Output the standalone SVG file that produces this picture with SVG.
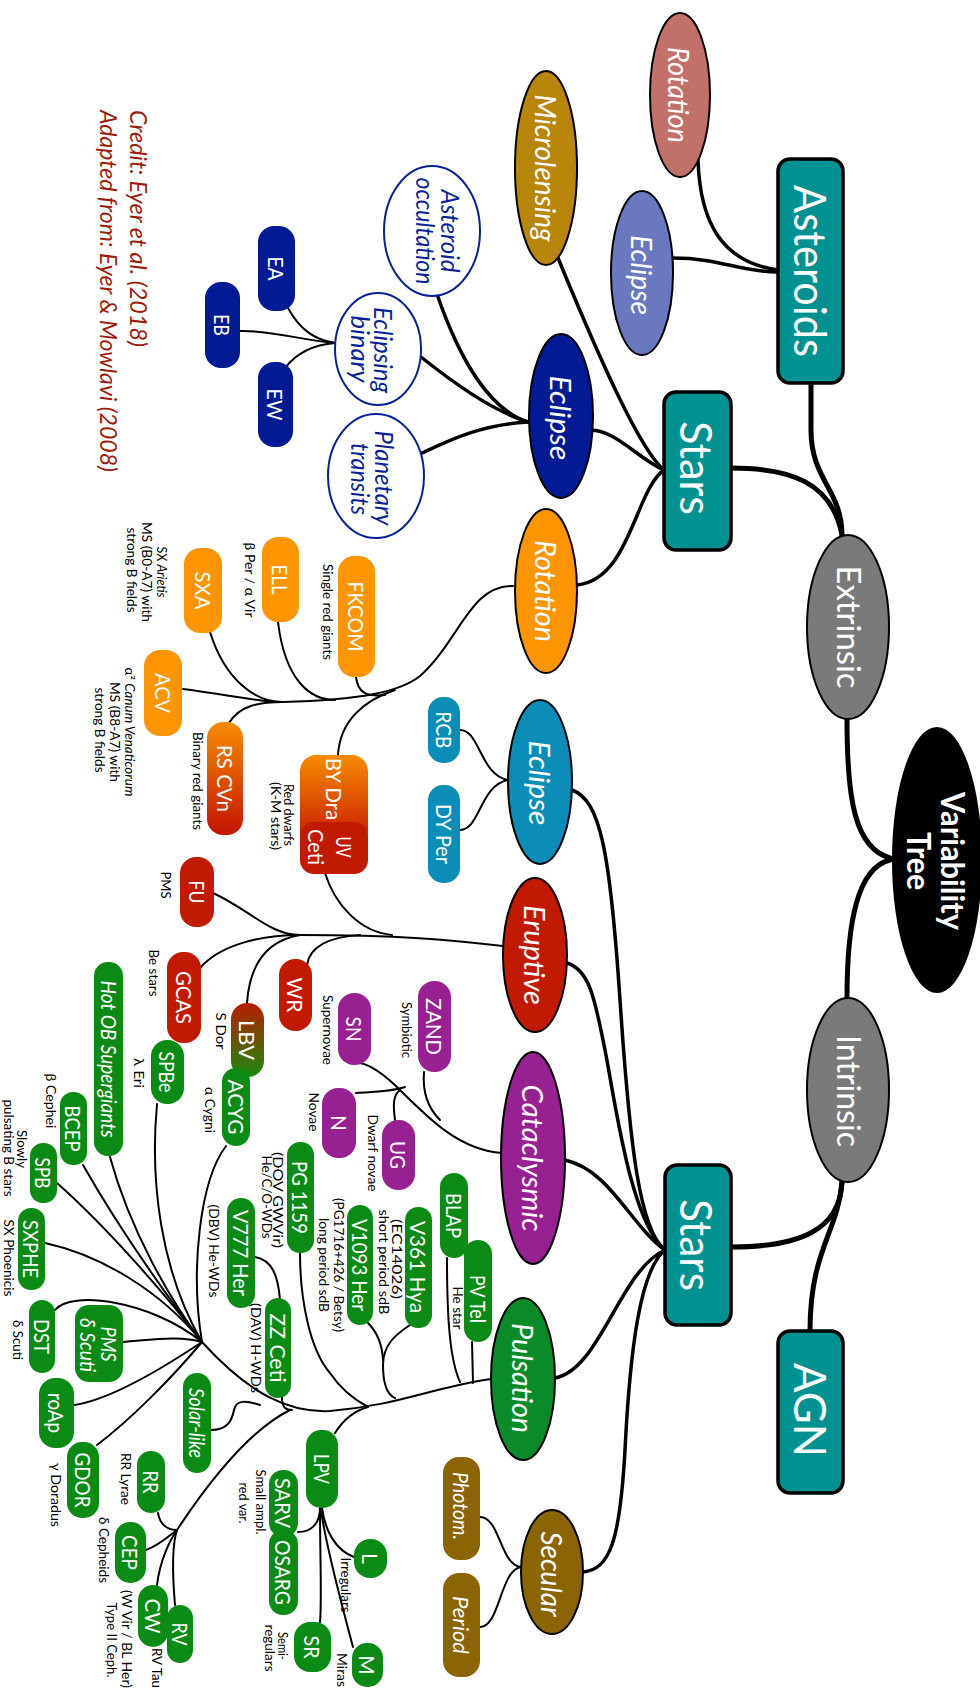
<svg xmlns="http://www.w3.org/2000/svg" width="980" height="1692" viewBox="0 0 980 1692">
<defs>
<style>
.t{font-family:Lato,"Open Sans","DejaVu Sans",sans-serif;fill:#fff;text-anchor:middle;dominant-baseline:central}
.big{font-size:44px}
.mid{font-size:32px}
.vt{font-size:32px;font-weight:bold}
.el{font-size:28px;font-style:italic}
.p{font-size:21px}
.pi{font-size:21px;font-style:italic}
.a{font-size:13px;fill:#000}
.w{font-size:26px;font-style:italic;fill:#0a1f9a}
.cr{font-size:24px;font-style:italic;fill:#9c1b0c;text-anchor:start}
.c{fill:none;stroke:#000;stroke-width:2;stroke-linecap:round}
.c3{stroke-width:3.5}
.c5{stroke-width:5}
.box{fill:#009190;stroke:#000;stroke-width:3.5}
.ell{stroke:#000;stroke-width:2}
.wel{fill:#fff;stroke:#0a1f9a;stroke-width:2}
.blue{fill:#021b94}.orng{fill:#fd9500}.red{fill:#c21a00}.grn{fill:#0b8a16}.pur{fill:#972191}.cyan{fill:#0b8db7}.brn{fill:#8b6406}
</style>
<linearGradient id="gOR" x1="0" y1="0" x2="0" y2="1"><stop offset="0" stop-color="#f78c00"/><stop offset="1" stop-color="#c41400"/></linearGradient>
<linearGradient id="gRG" x1="0" y1="0" x2="0" y2="1"><stop offset="0" stop-color="#b81c00"/><stop offset="1" stop-color="#1a8a10"/></linearGradient>
</defs>
<rect width="980" height="1692" fill="#fff"/>

<g id="connectors">
<path class="c c5" d="M847 720 C847 800 855 848 890 858"/>
<path class="c c5" d="M890 860 C858 868 847 920 847 998"/>
<path class="c c5" d="M811 383 L811 430 C811 480 842 490 842 535"/>
<path class="c c5" d="M731 468 C790 468 832 482 842 535"/>
<path class="c c5" d="M842 1182 C840 1230 800 1247 731 1247"/>
<path class="c c5" d="M842 1182 C838 1232 810 1250 810 1331"/>
<path class="c c3" d="M778 270 C720 262 700 220 698 160"/>
<path class="c c3" d="M778 272 C740 272 720 258 673 258"/>
<path class="c c3" d="M664 470 C640 450 600 360 558 258"/>
<path class="c c3" d="M664 470 C640 460 615 430 591 430"/>
<path class="c c3" d="M664 470 C635 490 630 580 577 585"/>
<path class="c c3" d="M528 422 C490 410 460 360 438 297"/>
<path class="c c3" d="M528 422 C490 410 450 380 421 357"/>
<path class="c c3" d="M528 422 C480 425 450 440 422 453"/>
<path class="c" d="M335 343 C315 340 300 330 288 308"/>
<path class="c" d="M335 343 C300 340 270 330 240 331"/>
<path class="c" d="M335 343 C310 345 295 355 285 368"/>
<path class="c" d="M513 586 C470 585 460 640 420 676 C400 692 360 700 283 702"/>
<path class="c" d="M356 677 C358 692 365 697 385 695"/>
<path class="c" d="M278 622 C285 680 310 700 335 700"/>
<path class="c" d="M210 632 C225 680 255 702 283 702"/>
<path class="c" d="M183 689 C230 695 260 702 283 702"/>
<path class="c" d="M229 723 C240 705 260 702 283 702"/>
<path class="c" d="M338 755 C340 720 365 700 395 690"/>
<path class="c" d="M503 946 C450 940 400 935 300 935"/>
<path class="c" d="M213 893 C250 910 270 935 300 935"/>
<path class="c" d="M200 968 C220 945 260 935 300 935"/>
<path class="c" d="M247 1003 C250 960 270 940 300 935"/>
<path class="c" d="M307 965 C310 945 330 937 360 935"/>
<path class="c" d="M325 873 C335 905 360 932 392 935"/>
<path class="c" d="M502 1153 C460 1150 430 1120 400 1090 C385 1075 370 1065 360 1063"/>
<path class="c" d="M424 1072 C422 1095 430 1110 440 1120"/>
<path class="c" d="M356 1093 C370 1092 390 1092 405 1087"/>
<path class="c" d="M395 1120 C393 1105 393 1095 400 1090"/>
<path class="c" d="M508 780 C480 775 480 730 460 730"/>
<path class="c" d="M508 780 C480 785 480 830 460 830"/>
<path class="c" d="M521 1567 C500 1565 500 1517 480 1517"/>
<path class="c" d="M521 1567 C500 1570 500 1627 480 1627"/>
<path class="c c3" d="M665 1250 C640 1230 630 1150 620 1000 C610 850 600 800 572 790"/>
<path class="c c3" d="M665 1250 C630 1220 615 1100 605 1050 C595 1000 590 970 567 963"/>
<path class="c c3" d="M665 1250 C630 1225 610 1170 565 1160"/>
<path class="c c3" d="M665 1250 C620 1270 600 1370 555 1378"/>
<path class="c c3" d="M665 1250 C640 1270 630 1350 625 1450 C620 1540 610 1570 583 1572"/>
<path class="c" d="M491 1379 C430 1388 400 1405 330 1411 C290 1413 250 1395 202 1342"/>
<path class="c" d="M472 1342 L473 1383"/>
<path class="c" d="M447 1258 C447 1320 450 1360 460 1382"/>
<path class="c" d="M410 1325 C395 1335 383 1345 383 1365 C383 1385 388 1395 395 1398"/>
<path class="c" d="M368 1323 C375 1330 382 1340 383 1360"/>
<path class="c" d="M300 1253 C300 1300 310 1350 330 1373 C340 1388 355 1400 368 1407"/>
<path class="c" d="M255 1257 C272 1260 278 1275 280 1300 L282 1400 C283 1408 286 1410 292 1410"/>
<path class="c" d="M110 1157 C130 1230 170 1300 202 1342"/>
<path class="c" d="M83 1165 C120 1230 170 1300 202 1342"/>
<path class="c" d="M57 1183 C110 1230 170 1300 202 1342"/>
<path class="c" d="M45 1243 C100 1255 160 1290 202 1342"/>
<path class="c" d="M157 1104 C150 1180 160 1270 202 1342"/>
<path class="c" d="M226 1146 C200 1180 190 1270 202 1342"/>
<path class="c" d="M55 1310 C70 1290 150 1300 202 1342"/>
<path class="c" d="M123 1342 C150 1340 180 1335 202 1342"/>
<path class="c" d="M74 1405 C110 1400 160 1370 202 1342"/>
<path class="c" d="M97 1445 C130 1420 170 1380 202 1342"/>
<path class="c" d="M211 1430 C228 1430 232 1420 234 1410 C236 1400 245 1400 260 1405"/>
<path class="c" d="M290 1410 C250 1430 210 1480 177 1530"/>
<path class="c" d="M158 1513 C160 1525 168 1530 177 1530"/>
<path class="c" d="M146 1550 C160 1545 170 1535 177 1530"/>
<path class="c" d="M157 1585 C160 1560 170 1540 177 1530"/>
<path class="c" d="M175 1605 C172 1570 172 1545 177 1530"/>
<path class="c" d="M368 1407 C350 1412 340 1425 335 1433"/>
<path class="c" d="M320 1508 C320 1525 310 1532 298 1532"/>
<path class="c" d="M320 1508 C320 1560 322 1600 320 1622"/>
<path class="c" d="M322 1508 C325 1530 335 1550 354 1557"/>
<path class="c" d="M321 1510 C325 1540 335 1580 353 1647"/>
</g>

<g id="credit">
<text class="t cr" transform="translate(139 110) rotate(90)" textLength="237" lengthAdjust="spacingAndGlyphs">Credit:  Eyer et al. (2018)</text>
<text class="t cr" transform="translate(109 110) rotate(90)" textLength="362" lengthAdjust="spacingAndGlyphs">Adapted from:  Eyer &amp; Mowlavi (2008)</text>
</g>

<g id="variability-tree"><ellipse cx="937" cy="860" rx="45" ry="133" fill="#000"/>
<text class="t vt" transform="translate(953 861) rotate(90)" textLength="138" lengthAdjust="spacingAndGlyphs">Variability</text>
<text class="t vt" transform="translate(919 861) rotate(90)" textLength="58" lengthAdjust="spacingAndGlyphs">Tree</text></g>

<g id="extrinsic"><ellipse class="ell" cx="848" cy="627" rx="41" ry="92" fill="#7a7a7a"/>
<text class="t mid" transform="translate(849 627) rotate(90)" textLength="123" lengthAdjust="spacingAndGlyphs">Extrinsic</text></g>
<g id="intrinsic"><ellipse class="ell" cx="848" cy="1090" rx="41" ry="92" fill="#7a7a7a"/>
<text class="t mid" transform="translate(849 1091) rotate(90)" textLength="112" lengthAdjust="spacingAndGlyphs">Intrinsic</text></g>

<g id="asteroids"><rect class="box" x="778" y="159" width="65" height="224" rx="12"/>
<text class="t big" transform="translate(811 271) rotate(90)" textLength="172" lengthAdjust="spacingAndGlyphs">Asteroids</text></g>
<g id="stars-ext"><rect class="box" x="664" y="392" width="67" height="158" rx="12"/>
<text class="t big" transform="translate(697 468) rotate(90)" textLength="94" lengthAdjust="spacingAndGlyphs">Stars</text></g>
<g id="stars-int"><rect class="box" x="665" y="1165" width="66" height="160" rx="12"/>
<text class="t big" transform="translate(697 1245) rotate(90)" textLength="92" lengthAdjust="spacingAndGlyphs">Stars</text></g>
<g id="agn"><rect class="box" x="778" y="1331" width="65" height="162" rx="12"/>
<text class="t big" transform="translate(811 1410) rotate(90)" textLength="94" lengthAdjust="spacingAndGlyphs">AGN</text></g>

<g id="ast-rotation"><ellipse class="ell" cx="680" cy="95" rx="30" ry="82" fill="#c1706a"/>
<text class="t el" transform="translate(679 95) rotate(90)" textLength="96" lengthAdjust="spacingAndGlyphs">Rotation</text></g>
<g id="ast-eclipse"><ellipse class="ell" cx="642" cy="273" rx="31" ry="82" fill="#6a78c0"/>
<text class="t el" transform="translate(642 275) rotate(90)" textLength="80" lengthAdjust="spacingAndGlyphs">Eclipse</text></g>
<g id="microlensing"><ellipse class="ell" cx="546" cy="168" rx="31" ry="97" fill="#b8860b"/>
<text class="t el" transform="translate(546 168) rotate(90)" textLength="147" lengthAdjust="spacingAndGlyphs">Microlensing</text></g>
<g id="eclipse-blue"><ellipse class="ell blue" cx="561" cy="416" rx="32" ry="82"/>
<text class="t el" transform="translate(561 418) rotate(90)" textLength="85" lengthAdjust="spacingAndGlyphs">Eclipse</text></g>
<g id="rotation-orange"><ellipse class="ell orng" cx="546" cy="591" rx="31" ry="82"/>
<text class="t el" transform="translate(546 591) rotate(90)" textLength="102" lengthAdjust="spacingAndGlyphs">Rotation</text></g>
<g id="eclipse-cyan"><ellipse class="ell cyan" cx="540" cy="782" rx="32" ry="82"/>
<text class="t el" transform="translate(540 783) rotate(90)" textLength="85" lengthAdjust="spacingAndGlyphs">Eclipse</text></g>
<g id="eruptive"><ellipse class="ell red" cx="535" cy="955" rx="32" ry="77"/>
<text class="t el" transform="translate(535 955) rotate(90)" textLength="100" lengthAdjust="spacingAndGlyphs">Eruptive</text></g>
<g id="cataclysmic"><ellipse class="ell pur" cx="533" cy="1158" rx="32" ry="106"/>
<text class="t el" transform="translate(533 1158) rotate(90)" textLength="147" lengthAdjust="spacingAndGlyphs">Cataclysmic</text></g>
<g id="pulsation"><ellipse class="ell" cx="523" cy="1379" rx="32" ry="81" fill="#0a8a28"/>
<text class="t el" transform="translate(523 1378) rotate(90)" textLength="110" lengthAdjust="spacingAndGlyphs">Pulsation</text></g>
<g id="secular"><ellipse class="ell brn" cx="552" cy="1572" rx="31" ry="62"/>
<text class="t el" transform="translate(552 1574) rotate(90)" textLength="85" lengthAdjust="spacingAndGlyphs">Secular</text></g>

<g id="asteroid-occultation"><ellipse class="wel" cx="432" cy="231" rx="48" ry="65"/>
<text class="t w" transform="translate(451 231) rotate(90)" textLength="83" lengthAdjust="spacingAndGlyphs">Asteroid</text>
<text class="t w" transform="translate(426 231) rotate(90)" textLength="107" lengthAdjust="spacingAndGlyphs">occultation</text></g>
<g id="eclipsing-binary"><ellipse class="wel" cx="378" cy="349" rx="43" ry="56"/>
<text class="t w" transform="translate(384 350) rotate(90)" textLength="86" lengthAdjust="spacingAndGlyphs">Eclipsing</text>
<text class="t w" transform="translate(361 349) rotate(90)" textLength="67" lengthAdjust="spacingAndGlyphs">binary</text></g>
<g id="planetary-transits"><ellipse class="wel" cx="376" cy="476" rx="48" ry="62"/>
<text class="t w" transform="translate(385 478) rotate(90)" textLength="95" lengthAdjust="spacingAndGlyphs">Planetary</text>
<text class="t w" transform="translate(361 479) rotate(90)" textLength="72" lengthAdjust="spacingAndGlyphs">transits</text></g>

<g id="EA"><rect class="blue" x="258" y="226" width="37" height="85" rx="16"/><text class="t p" transform="translate(276.5 268.5) rotate(90)" textLength="24" lengthAdjust="spacingAndGlyphs">EA</text></g>
<g id="EB"><rect class="blue" x="205" y="282" width="35" height="86" rx="16"/><text class="t p" transform="translate(222.5 325) rotate(90)" textLength="22" lengthAdjust="spacingAndGlyphs">EB</text></g>
<g id="EW"><rect class="blue" x="258" y="362" width="35" height="85" rx="16"/><text class="t p" transform="translate(275.5 404.5) rotate(90)" textLength="32" lengthAdjust="spacingAndGlyphs">EW</text></g>

<g id="FKCOM"><rect class="orng" x="338" y="556" width="37" height="121" rx="16"/><text class="t p" transform="translate(356.5 616.5) rotate(90)" textLength="70" lengthAdjust="spacingAndGlyphs">FKCOM</text>
<text class="t a" transform="translate(328 612) rotate(90)" textLength="96" lengthAdjust="spacingAndGlyphs">Single red giants</text></g>
<g id="ELL"><rect class="orng" x="262" y="537" width="37" height="85" rx="16"/><text class="t p" transform="translate(280.5 579.5) rotate(90)" textLength="30" lengthAdjust="spacingAndGlyphs">ELL</text>
<text class="t a" transform="translate(250 580) rotate(90)" textLength="75" lengthAdjust="spacingAndGlyphs">β Per / α Vir</text></g>
<g id="SXA"><rect class="orng" x="184" y="548" width="38" height="85" rx="16"/><text class="t p" transform="translate(203 590.5) rotate(90)" textLength="38" lengthAdjust="spacingAndGlyphs">SXA</text>
<text class="t a" transform="translate(162 572) rotate(90)" textLength="51" lengthAdjust="spacingAndGlyphs">SX <tspan font-style="italic">Arietis</tspan></text>
<text class="t a" transform="translate(147 572) rotate(90)" textLength="100" lengthAdjust="spacingAndGlyphs">MS (B0-A7) with</text>
<text class="t a" transform="translate(132 570) rotate(90)" textLength="85" lengthAdjust="spacingAndGlyphs">strong B fields</text></g>
<g id="ACV"><rect class="orng" x="144" y="650" width="38" height="86" rx="16"/><text class="t p" transform="translate(163 693) rotate(90)" textLength="40" lengthAdjust="spacingAndGlyphs">ACV</text>
<text class="t a" transform="translate(130 732) rotate(90)" textLength="129" lengthAdjust="spacingAndGlyphs">α² <tspan font-style="italic">Canum Venaticorum</tspan></text>
<text class="t a" transform="translate(115 732) rotate(90)" textLength="100" lengthAdjust="spacingAndGlyphs">MS (B8-A7) with</text>
<text class="t a" transform="translate(100 730) rotate(90)" textLength="85" lengthAdjust="spacingAndGlyphs">strong B fields</text></g>
<g id="RSCVn"><rect x="207" y="722" width="36" height="113" rx="16" fill="url(#gOR)"/><text class="t p" transform="translate(225 778.5) rotate(90)" textLength="67" lengthAdjust="spacingAndGlyphs">RS CVn</text>
<text class="t a" transform="translate(198 781) rotate(90)" textLength="98" lengthAdjust="spacingAndGlyphs">Binary red giants</text></g>
<g id="BYDra"><rect x="300" y="755" width="68" height="92" rx="16" fill="url(#gOR)"/><text class="t p" transform="translate(334 789) rotate(90)" textLength="62" lengthAdjust="spacingAndGlyphs">BY Dra</text>
<text class="t a" transform="translate(289 815) rotate(90)" textLength="62" lengthAdjust="spacingAndGlyphs">Red dwarfs</text>
<text class="t a" transform="translate(276 816) rotate(90)" textLength="68" lengthAdjust="spacingAndGlyphs">(K-M stars)</text></g>
<g id="UVCeti"><rect class="red" x="300" y="822" width="68" height="52" rx="14"/><text class="t p" transform="translate(344 847) rotate(90)" textLength="21" lengthAdjust="spacingAndGlyphs">UV</text><text class="t p" transform="translate(316 847) rotate(90)" textLength="36" lengthAdjust="spacingAndGlyphs">Ceti</text></g>

<g id="RCB"><rect class="cyan" x="428" y="697" width="32" height="66" rx="15"/><text class="t p" transform="translate(444 730) rotate(90)" textLength="37" lengthAdjust="spacingAndGlyphs">RCB</text></g>
<g id="DYPer"><rect class="cyan" x="428" y="785" width="32" height="98" rx="15"/><text class="t p" transform="translate(444 834) rotate(90)" textLength="60" lengthAdjust="spacingAndGlyphs">DY Per</text></g>

<g id="FU"><rect class="red" x="180" y="857" width="34" height="70" rx="16"/><text class="t p" transform="translate(197 892) rotate(90)" textLength="23" lengthAdjust="spacingAndGlyphs">FU</text>
<text class="t a" transform="translate(166 885) rotate(90)">PMS</text></g>
<g id="GCAS"><rect class="red" x="167" y="952" width="34" height="91" rx="16"/><text class="t p" transform="translate(184 997.5) rotate(90)" textLength="53" lengthAdjust="spacingAndGlyphs">GCAS</text>
<text class="t a" transform="translate(154 973) rotate(90)" textLength="47" lengthAdjust="spacingAndGlyphs">Be stars</text></g>
<g id="WR"><rect class="red" x="279" y="959" width="33" height="72" rx="16"/><text class="t p" transform="translate(295.5 995) rotate(90)" textLength="35" lengthAdjust="spacingAndGlyphs">WR</text></g>
<g id="LBV"><rect x="231" y="1003" width="33" height="74" rx="16" fill="url(#gRG)"/><text class="t p" transform="translate(247.5 1040) rotate(90)" textLength="40" lengthAdjust="spacingAndGlyphs">LBV</text>
<text class="t a" transform="translate(221 1031) rotate(90)" textLength="37" lengthAdjust="spacingAndGlyphs">S Dor</text></g>

<g id="ZAND"><rect class="pur" x="418" y="981" width="33" height="91" rx="16"/><text class="t p" transform="translate(434.5 1026.5) rotate(90)" textLength="57" lengthAdjust="spacingAndGlyphs">ZAND</text>
<text class="t a" transform="translate(407 1030) rotate(90)" textLength="56" lengthAdjust="spacingAndGlyphs">Symbiotic</text></g>
<g id="SN"><rect class="pur" x="338" y="993" width="33" height="72" rx="16"/><text class="t p" transform="translate(354.5 1029) rotate(90)" textLength="25" lengthAdjust="spacingAndGlyphs">SN</text>
<text class="t a" transform="translate(328 1030) rotate(90)" textLength="70" lengthAdjust="spacingAndGlyphs">Supernovae</text></g>
<g id="N"><rect class="pur" x="322" y="1088" width="34" height="70" rx="16"/><text class="t p" transform="translate(339 1123) rotate(90)">N</text>
<text class="t a" transform="translate(314 1112) rotate(90)" textLength="39" lengthAdjust="spacingAndGlyphs">Novae</text></g>
<g id="UG"><rect class="pur" x="382" y="1120" width="33" height="70" rx="16"/><text class="t p" transform="translate(398.5 1155) rotate(90)" textLength="28" lengthAdjust="spacingAndGlyphs">UG</text>
<text class="t a" transform="translate(373 1153) rotate(90)" textLength="77" lengthAdjust="spacingAndGlyphs">Dwarf novae</text></g>

<g id="SPBe"><rect class="grn" x="151" y="1040" width="33" height="64" rx="16"/><text class="t p" transform="translate(167.5 1072) rotate(90)" textLength="41" lengthAdjust="spacingAndGlyphs">SPBe</text>
<text class="t a" transform="translate(139 1073) rotate(90)" textLength="30" lengthAdjust="spacingAndGlyphs">λ Eri</text></g>
<g id="ACYG"><rect class="grn" x="222" y="1068" width="28" height="78" rx="14"/><text class="t p" transform="translate(236 1107) rotate(90)" textLength="55" lengthAdjust="spacingAndGlyphs">ACYG</text>
<text class="t a" transform="translate(210 1110) rotate(90)" textLength="46" lengthAdjust="spacingAndGlyphs">α Cygni</text></g>
<g id="HotOB"><rect class="grn" x="94" y="962" width="29" height="194" rx="14"/><text class="t pi" transform="translate(109 1059) rotate(90)" textLength="157" lengthAdjust="spacingAndGlyphs">Hot OB Supergiants</text></g>
<g id="BCEP"><rect class="grn" x="60" y="1092" width="27" height="73" rx="13"/><text class="t p" transform="translate(73.5 1128.5) rotate(90)" textLength="46" lengthAdjust="spacingAndGlyphs">BCEP</text>
<text class="t a" transform="translate(51 1101) rotate(90)" textLength="55" lengthAdjust="spacingAndGlyphs">β Cephei</text></g>
<g id="SPB"><rect class="grn" x="30" y="1143" width="27" height="60" rx="13"/><text class="t p" transform="translate(43.5 1173) rotate(90)" textLength="31" lengthAdjust="spacingAndGlyphs">SPB</text>
<text class="t a" transform="translate(22 1149) rotate(90)" textLength="38" lengthAdjust="spacingAndGlyphs">Slowly</text>
<text class="t a" transform="translate(9 1148) rotate(90)" textLength="97" lengthAdjust="spacingAndGlyphs">pulsating B stars</text></g>
<g id="SXPHE"><rect class="grn" x="18" y="1208" width="27" height="82" rx="13"/><text class="t p" transform="translate(31.5 1249) rotate(90)" textLength="58" lengthAdjust="spacingAndGlyphs">SXPHE</text>
<text class="t a" transform="translate(9 1258) rotate(90)" textLength="77" lengthAdjust="spacingAndGlyphs">SX Phoenicis</text></g>
<g id="PG1159"><rect class="grn" x="287" y="1142" width="27" height="111" rx="13"/><text class="t p" transform="translate(300.5 1197.5) rotate(90)" textLength="73" lengthAdjust="spacingAndGlyphs">PG 1159</text>
<text class="t a" transform="translate(278 1200) rotate(90)" textLength="96" lengthAdjust="spacingAndGlyphs">(DOV GWVir)</text>
<text class="t a" transform="translate(267 1197) rotate(90)" textLength="83" lengthAdjust="spacingAndGlyphs">He/C/O-WDs</text></g>
<g id="V777Her"><rect class="grn" x="227" y="1198" width="28" height="110" rx="14"/><text class="t p" transform="translate(241 1253) rotate(90)" textLength="86" lengthAdjust="spacingAndGlyphs">V777 Her</text>
<text class="t a" transform="translate(214 1251) rotate(90)" textLength="93" lengthAdjust="spacingAndGlyphs">(DBV) He-WDs</text></g>
<g id="ZZCeti"><rect class="grn" x="265" y="1298" width="26" height="100" rx="13"/><text class="t p" transform="translate(278 1348) rotate(90)" textLength="69" lengthAdjust="spacingAndGlyphs">ZZ Ceti</text>
<text class="t a" transform="translate(256 1348) rotate(90)" textLength="90" lengthAdjust="spacingAndGlyphs">(DAV) H-WDs</text></g>
<g id="DST"><rect class="grn" x="29" y="1300" width="26" height="73" rx="13"/><text class="t p" transform="translate(42 1336.5) rotate(90)" textLength="35" lengthAdjust="spacingAndGlyphs">DST</text>
<text class="t a" transform="translate(18 1340) rotate(90)" textLength="40" lengthAdjust="spacingAndGlyphs">δ Scuti</text></g>
<g id="PMSdScuti"><rect class="grn" x="75" y="1305" width="48" height="77" rx="14"/><text class="t pi" transform="translate(109 1344) rotate(90)" textLength="35" lengthAdjust="spacingAndGlyphs">PMS</text><text class="t pi" transform="translate(88 1345) rotate(90)" textLength="54" lengthAdjust="spacingAndGlyphs">δ Scuti</text></g>
<g id="roAp"><rect class="grn" x="39" y="1378" width="35" height="70" rx="16"/><text class="t p" transform="translate(56.5 1413) rotate(90)" textLength="40" lengthAdjust="spacingAndGlyphs">roAp</text></g>
<g id="GDOR"><rect class="grn" x="67" y="1442" width="32" height="76" rx="15"/><text class="t p" transform="translate(83 1480) rotate(90)" textLength="55" lengthAdjust="spacingAndGlyphs">GDOR</text>
<text class="t a" transform="translate(56 1495) rotate(90)" textLength="64" lengthAdjust="spacingAndGlyphs">γ Doradus</text></g>
<g id="SolarLike"><rect class="grn" x="183" y="1373" width="28" height="100" rx="14"/><text class="t pi" transform="translate(197 1423) rotate(90)" textLength="70" lengthAdjust="spacingAndGlyphs">Solar-like</text></g>
<g id="RR"><rect class="grn" x="137" y="1451" width="28" height="62" rx="14"/><text class="t p" transform="translate(151 1482) rotate(90)" textLength="23" lengthAdjust="spacingAndGlyphs">RR</text>
<text class="t a" transform="translate(126 1479) rotate(90)" textLength="52" lengthAdjust="spacingAndGlyphs">RR Lyrae</text></g>
<g id="CEP"><rect class="grn" x="115" y="1522" width="31" height="61" rx="15"/><text class="t p" transform="translate(130.5 1552.5) rotate(90)" textLength="35" lengthAdjust="spacingAndGlyphs">CEP</text>
<text class="t a" transform="translate(104 1550) rotate(90)" textLength="66" lengthAdjust="spacingAndGlyphs">δ Cepheids</text></g>
<g id="CW"><rect class="grn" x="138" y="1585" width="30" height="62" rx="15"/><text class="t p" transform="translate(153 1616) rotate(90)" textLength="35" lengthAdjust="spacingAndGlyphs">CW</text>
<text class="t a" transform="translate(127 1639) rotate(90)" textLength="98" lengthAdjust="spacingAndGlyphs">(W Vir / BL Her)</text>
<text class="t a" transform="translate(112 1640) rotate(90)" textLength="75" lengthAdjust="spacingAndGlyphs">Type II Ceph.</text></g>
<g id="RV"><rect class="grn" x="167" y="1605" width="26" height="58" rx="13"/><text class="t p" transform="translate(180 1634) rotate(90)" textLength="23" lengthAdjust="spacingAndGlyphs">RV</text>
<text class="t a" transform="translate(157 1668) rotate(90)" textLength="40" lengthAdjust="spacingAndGlyphs">RV Tau</text></g>
<g id="LPV"><rect class="grn" x="306" y="1430" width="32" height="78" rx="15"/><text class="t p" transform="translate(322 1469) rotate(90)" textLength="30" lengthAdjust="spacingAndGlyphs">LPV</text></g>
<g id="SARV"><rect class="grn" x="269" y="1470" width="29" height="67" rx="14"/><text class="t p" transform="translate(283.5 1503) rotate(90)" textLength="50" lengthAdjust="spacingAndGlyphs">SARV</text>
<text class="t a" transform="translate(261 1502) rotate(90)" textLength="65" lengthAdjust="spacingAndGlyphs">Small ampl.</text>
<text class="t a" transform="translate(244 1503) rotate(90)" textLength="41" lengthAdjust="spacingAndGlyphs">red var.</text></g>
<g id="OSARG"><rect class="grn" x="269" y="1530" width="29" height="85" rx="14"/><text class="t p" transform="translate(283.5 1572.5) rotate(90)" textLength="65" lengthAdjust="spacingAndGlyphs">OSARG</text></g>
<g id="SR"><rect class="grn" x="294" y="1622" width="37" height="50" rx="16"/><text class="t p" transform="translate(312 1647) rotate(90)" textLength="23" lengthAdjust="spacingAndGlyphs">SR</text>
<text class="t a" transform="translate(283 1646) rotate(90)" textLength="28" lengthAdjust="spacingAndGlyphs">Semi-</text>
<text class="t a" transform="translate(270 1648) rotate(90)" textLength="47" lengthAdjust="spacingAndGlyphs">regulars</text></g>
<g id="L"><rect class="grn" x="354" y="1539" width="33" height="39" rx="16"/><text class="t p" transform="translate(370.5 1558.5) rotate(90)">L</text>
<text class="t a" transform="translate(346 1585) rotate(90)" textLength="55" lengthAdjust="spacingAndGlyphs">Irregulars</text></g>
<g id="M"><rect class="grn" x="352" y="1643" width="31" height="44" rx="15"/><text class="t p" transform="translate(367.5 1665) rotate(90)">M</text>
<text class="t a" transform="translate(342 1670) rotate(90)" textLength="34" lengthAdjust="spacingAndGlyphs">Miras</text></g>
<g id="BLAP"><rect class="grn" x="440" y="1173" width="28" height="85" rx="14"/><text class="t p" transform="translate(454 1215.5) rotate(90)" textLength="45" lengthAdjust="spacingAndGlyphs">BLAP</text></g>
<g id="V361Hya"><rect class="grn" x="405" y="1207" width="27" height="121" rx="13"/><text class="t p" transform="translate(418.5 1267) rotate(90)" textLength="92" lengthAdjust="spacingAndGlyphs">V361 Hya</text>
<text class="t a" transform="translate(397 1259) rotate(90)" textLength="80" lengthAdjust="spacingAndGlyphs">(EC14026)</text>
<text class="t a" transform="translate(384 1262) rotate(90)" textLength="105" lengthAdjust="spacingAndGlyphs">short period sdB</text></g>
<g id="V1093Her"><rect class="grn" x="347" y="1205" width="26" height="120" rx="13"/><text class="t p" transform="translate(360 1265) rotate(90)" textLength="92" lengthAdjust="spacingAndGlyphs">V1093 Her</text>
<text class="t a" transform="translate(339 1265) rotate(90)" textLength="134" lengthAdjust="spacingAndGlyphs">(PG1716+426 / Betsy)</text>
<text class="t a" transform="translate(324 1265) rotate(90)" textLength="94" lengthAdjust="spacingAndGlyphs">long period sdB</text></g>
<g id="PVTel"><rect class="grn" x="464" y="1240" width="28" height="102" rx="14"/><text class="t p" transform="translate(478 1299) rotate(90)" textLength="48" lengthAdjust="spacingAndGlyphs">PV Tel</text>
<text class="t a" transform="translate(458 1308) rotate(90)" textLength="43" lengthAdjust="spacingAndGlyphs">He star</text></g>

<g id="Photom"><rect class="brn" x="443" y="1457" width="37" height="103" rx="16"/><text class="t pi" transform="translate(461.5 1506) rotate(90)" textLength="68" lengthAdjust="spacingAndGlyphs">Photom.</text></g>
<g id="Period"><rect class="brn" x="443" y="1573" width="37" height="104" rx="16"/><text class="t pi" transform="translate(461.5 1625) rotate(90)" textLength="58" lengthAdjust="spacingAndGlyphs">Period</text></g>
</svg>
